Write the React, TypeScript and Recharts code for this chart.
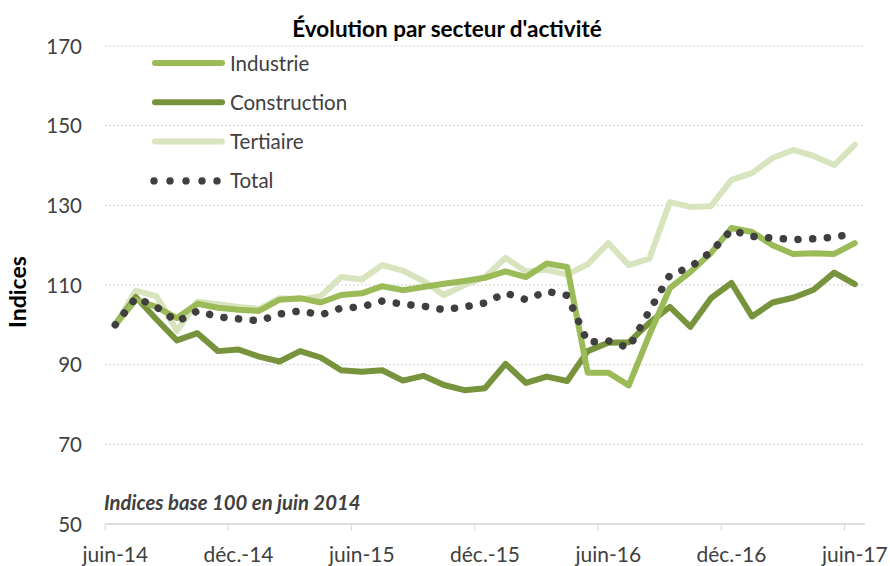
import React from 'react';
import { LineChart, Line, XAxis, YAxis, CartesianGrid } from 'recharts';

const months = ['juin-14','juil.-14','août-14','sept.-14','oct.-14','nov.-14','déc.-14','janv.-15','févr.-15','mars-15','avr.-15','mai-15','juin-15','juil.-15','août-15','sept.-15','oct.-15','nov.-15','déc.-15','janv.-16','févr.-16','mars-16','avr.-16','mai-16','juin-16','juil.-16','août-16','sept.-16','oct.-16','nov.-16','déc.-16','janv.-17','févr.-17','mars-17','avr.-17','mai-17','juin-17'];

const industrie = [100, 106.3, 104.5, 101.7, 105.3, 104.3, 103.8, 103.5, 106.3, 106.7, 105.6, 107.5, 107.9, 109.7, 108.7, 109.5, 110.3, 111, 111.8, 113.4, 112, 115.4, 114.5, 88, 88, 84.8, 97.5, 109.2, 113.3, 118, 124.3, 123.3, 120, 117.8, 118, 117.8, 120.5];
const construction = [100, 107, 101.4, 96.1, 97.9, 93.4, 93.8, 92, 90.8, 93.4, 91.8, 88.6, 88.2, 88.6, 86, 87.2, 84.9, 83.6, 84.1, 90.2, 85.4, 87, 85.9, 93.4, 95.5, 95.6, 100.5, 104.5, 99.5, 106.7, 110.5, 102.1, 105.6, 106.8, 108.8, 113.1, 110.2];
const tertiaire = [100, 108.6, 107.2, 98.5, 105.8, 105.2, 104.5, 104, 106.7, 106.4, 107.2, 112, 111.4, 115, 113.6, 111, 107.5, 110, 112, 116.8, 113.4, 113.8, 112.6, 115.2, 120.5, 115, 116.6, 130.8, 129.6, 129.8, 136.4, 138.1, 141.9, 143.9, 142.4, 140.1, 145.2];
const total = [100, 106.8, 104.5, 100.8, 103.5, 102, 101.5, 101, 102.7, 103.5, 102.5, 104.2, 104.5, 106, 105.2, 104.7, 103.8, 104.5, 105.5, 108, 106.3, 108.4, 107.4, 95.6, 96, 94.2, 103.5, 112.5, 114.5, 118.3, 123.8, 122.2, 121.8, 121.4, 121.6, 122, 123];

const xTickIndices = [0, 6, 12, 18, 24, 30, 36];
const yTicks = [50, 70, 90, 110, 130, 150, 170];

const seriesNames = ['Industrie', 'Construction', 'Tertiaire', 'Total'];
const title = "Évolution par secteur d'activité";
const yLabel = 'Indices';
const note = 'Indices base 100 en juin 2014';

const C_IND = '#9BBB59';
const C_CON = '#77933C';
const C_TER = '#D7E4BD';
const C_TOT = '#3F3F3F';
const TXT = '#404040';
const FONT = 'Lato, "Open Sans", sans-serif';

const data = months.map((m, i) => ({
  idx: i,
  month: m,
  industrie: industrie[i],
  construction: construction[i],
  tertiaire: tertiaire[i],
  total: total[i],
}));

const XTick = (props: any) => {
  const { x, y, payload } = props;
  const w = typeof props.width === 'number' && props.width > 0 ? props.width : 760;
  const slot = w / months.length;
  return (
    <g>
      <line x1={x - slot / 2} x2={x - slot / 2} y1={y} y2={y + 7} stroke="#D9D9D9" strokeWidth={1} />
      <text x={x} y={y + 38} textAnchor="middle" fill={TXT} fontSize={21} fontFamily={FONT}>
        {months[payload.value]}
      </text>
    </g>
  );
};

const YTick = (props: any) => {
  const { y, payload } = props;
  return (
    <text x={82} y={y + 7.5} textAnchor="end" fill={TXT} fontSize={20.5} fontFamily={FONT}>
      {payload.value}
    </text>
  );
};

export default function App() {
  const legendColors = [C_IND, C_CON, C_TER];
  return (
    <div style={{ position: 'absolute', left: 0, top: 0, width: 890, height: 566, background: '#fff' }}>
      <LineChart
        width={890}
        height={566}
        data={data}
        margin={{ top: 46, right: 25, bottom: 0, left: 0 }}
      >
        <CartesianGrid horizontal vertical={false} stroke="#D0D0D0" strokeDasharray="2 2" />
        <XAxis
          dataKey="idx"
          type="number"
          domain={[-0.5, 36.5]}
          ticks={xTickIndices}
          interval={0}
          height={42}
          tickSize={0}
          tickMargin={0}
          axisLine={{ stroke: '#D9D9D9', strokeWidth: 1.3 }}
          tickLine={false}
          tick={<XTick />}
        />
        <YAxis
          type="number"
          domain={[50, 170]}
          ticks={yTicks}
          interval={0}
          width={105}
          axisLine={false}
          tickLine={false}
          tick={<YTick />}
        />
        <Line type="linear" dataKey="tertiaire" name={seriesNames[2]} stroke={C_TER} strokeWidth={6} dot={false} strokeLinejoin="round" strokeLinecap="round" isAnimationActive={false} />
        <Line type="linear" dataKey="construction" name={seriesNames[1]} stroke={C_CON} strokeWidth={6} dot={false} strokeLinejoin="round" strokeLinecap="round" isAnimationActive={false} />
        <Line type="linear" dataKey="industrie" name={seriesNames[0]} stroke={C_IND} strokeWidth={6} dot={false} strokeLinejoin="round" strokeLinecap="round" isAnimationActive={false} />
        <Line type="linear" dataKey="total" name={seriesNames[3]} stroke={C_TOT} strokeWidth={7.5} strokeDasharray="0.1 14.6" strokeLinecap="round" dot={false} isAnimationActive={false} />
      </LineChart>
      <svg width={890} height={566} style={{ position: 'absolute', left: 0, top: 0, pointerEvents: 'none' }}>
        <text x={447} y={37} textAnchor="middle" fontSize={22.5} fontWeight="bold" fill="#000" fontFamily={FONT}>{title}</text>
        <text transform="translate(26,292) rotate(-90)" textAnchor="middle" fontSize={23} fontWeight="bold" fill="#000" fontFamily={FONT}>{yLabel}</text>
        <text x={104} y={510} fontSize={20.3} fontWeight="bold" fontStyle="italic" fill={TXT} fontFamily={FONT}>{note}</text>
        {seriesNames.map((n, i) => {
          const cy = 63 + i * 39.3;
          return (
            <g key={n}>
              {i < 3 ? (
                <line x1={155} x2={222} y1={cy} y2={cy} stroke={legendColors[i]} strokeWidth={6} strokeLinecap="round" />
              ) : (
                [154, 170, 186, 202, 217].map((dx) => <circle key={dx} cx={dx} cy={cy} r={3.7} fill={C_TOT} />)
              )}
              <text x={230} y={cy + 7.5} fontSize={20.5} fill={TXT} fontFamily={FONT}>{n}</text>
            </g>
          );
        })}
      </svg>
    </div>
  );
}
